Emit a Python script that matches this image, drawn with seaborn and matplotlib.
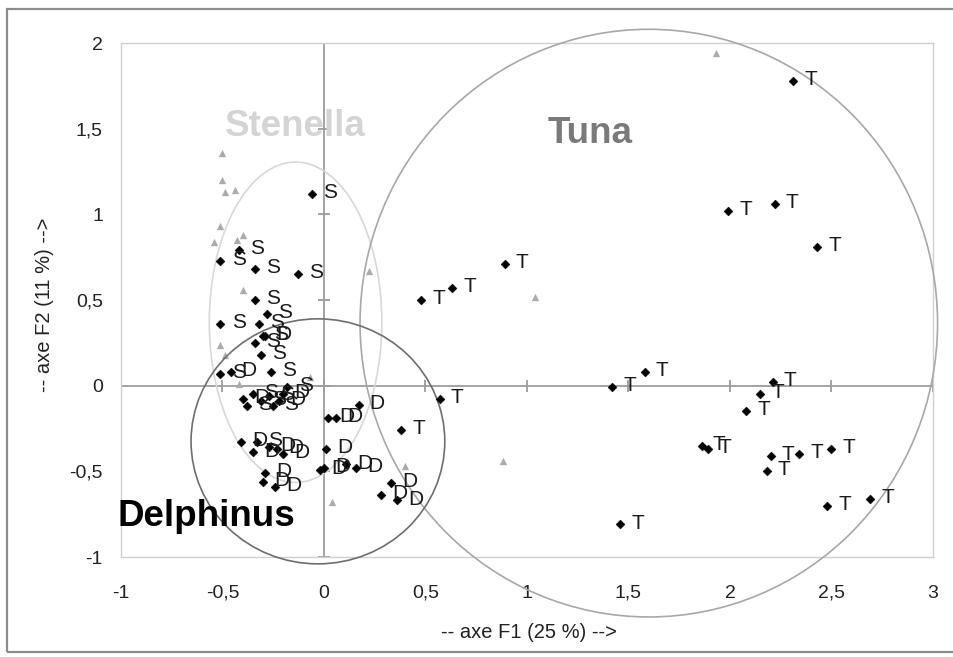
import numpy as np
import pandas as pd
import matplotlib
matplotlib.use("Agg")
import matplotlib.pyplot as plt
import seaborn as sns
from matplotlib.patches import Ellipse, Rectangle

# ---------------- data ----------------
tuna_x = [2.31, 1.99, 2.22, 2.43, 0.89, 0.63, 0.48, 0.57, 0.38, 1.42, 1.58, 2.21,
          2.15, 2.08, 1.86, 1.89, 2.20, 2.18, 2.34, 2.50, 2.48, 2.69, 1.46]
tuna_y = [1.78, 1.02, 1.06, 0.81, 0.71, 0.57, 0.50, -0.08, -0.26, -0.01, 0.08, 0.02,
          -0.05, -0.15, -0.35, -0.37, -0.41, -0.50, -0.40, -0.37, -0.70, -0.66, -0.81]

sten_x = [-0.06, -0.42, -0.51, -0.34, -0.13, -0.34, -0.28, -0.51, -0.32, -0.30, -0.34,
          -0.31, -0.26, -0.51, -0.18, -0.35, -0.31, -0.27, -0.38, -0.25, -0.33]
sten_y = [1.12, 0.79, 0.73, 0.68, 0.65, 0.50, 0.42, 0.36, 0.36, 0.29, 0.25,
          0.18, 0.08, 0.07, -0.01, -0.05, -0.09, -0.06, -0.12, -0.12, -0.33]

delph_x = [-0.46, -0.29, -0.40, -0.22, -0.20, 0.02, 0.06, 0.17, -0.41, -0.35, -0.27, -0.23,
           -0.20, 0.01, -0.02, 0.00, 0.11, 0.16, 0.33, 0.28, 0.36, -0.29, -0.30, -0.24]
delph_y = [0.08, 0.29, -0.08, -0.09, -0.05, -0.19, -0.19, -0.11, -0.33, -0.39, -0.36, -0.37,
           -0.40, -0.37, -0.49, -0.48, -0.46, -0.48, -0.57, -0.64, -0.67, -0.51, -0.56, -0.59]

supp_x = [-0.50, -0.50, -0.49, -0.44, -0.51, -0.54, -0.40, -0.43, 0.22, -0.40, -0.51,
          -0.49, 0.04, 0.40, 1.04, 0.88, 1.93, -0.07, -0.42]
supp_y = [1.36, 1.20, 1.13, 1.14, 0.93, 0.84, 0.88, 0.85, 0.67, 0.56, 0.24,
          0.18, -0.68, -0.47, 0.52, -0.44, 1.94, 0.05, 0.01]

group_names = ["Stenella", "Tuna", "Delphinus"]
group_cx = [-0.14, 1.60, -0.03]
group_cy = [0.37, 0.365, -0.325]
group_w = [0.85, 2.845, 1.25]
group_h = [1.87, 3.43, 1.43]
group_label_x = [-0.49, 1.10, -1.015]
group_label_y = [1.515, 1.474, -0.766]

ticks_x = [-1, -0.5, 0, 0.5, 1, 1.5, 2, 2.5, 3]
ticks_y = [-1, -0.5, 0, 0.5, 1, 1.5, 2]
xlabel = "-- axe F1 (25 %) -->"
ylabel = "-- axe F2 (11 %) -->"

# ---------------- style ----------------
sns.set_style("white")
plt.rcParams["font.family"] = ["Liberation Sans", "DejaVu Sans"]

df = pd.DataFrame({
    "x": sten_x + tuna_x + delph_x,
    "y": sten_y + tuna_y + delph_y,
    "lab": ["S"] * len(sten_x) + ["T"] * len(tuna_x) + ["D"] * len(delph_x),
})
sup = pd.DataFrame({"x": supp_x, "y": supp_y})

fig = plt.figure(figsize=(9.54, 6.57), dpi=100)
ax = fig.add_axes([121 / 954, 100 / 657, 812 / 954, 514 / 657])
ax.set_xlim(-1, 3)
ax.set_ylim(-1, 2)

# cross axes through the origin with tick marks
axis_col = "#9c9c9c"
ax.axhline(0, color=axis_col, lw=1.3, zorder=1)
ax.axvline(0, color=axis_col, lw=1.3, zorder=1)
ax.plot(ticks_x, np.zeros(len(ticks_x)), ls="none", marker="|", ms=8, mew=1.3,
        color=axis_col, zorder=1)
ax.plot(np.zeros(len(ticks_y)), ticks_y, ls="none", marker="_", ms=8, mew=1.3,
        color=axis_col, zorder=1)

# supplementary points (grey triangles)
sns.scatterplot(data=sup, x="x", y="y", marker="^", color="#ababab", s=28,
                linewidth=0, ax=ax, zorder=2, legend=False)
# active points
sns.scatterplot(data=df, x="x", y="y", marker="D", color="black", s=20,
                linewidth=0.4, edgecolor="black", ax=ax, zorder=4, legend=False)
for _, r in df.iterrows():
    ax.annotate(r["lab"], (r["x"], r["y"]), xytext=(8, 1), textcoords="offset points",
                ha="left", va="center", fontsize=15, color="#1a1a1a", zorder=5)

# group ellipses and labels
ell_cols = ["#d8d8d8", "#a8a8a8", "#6e6e6e"]
txt_cols = ["#d4d4d4", "#7a7a7a", "#000000"]
for i in range(3):
    e = Ellipse((group_cx[i], group_cy[i]), group_w[i], group_h[i], fill=False,
                edgecolor=ell_cols[i], lw=1.2, clip_on=False, zorder=3)
    ax.add_patch(e)
    ax.text(group_label_x[i], group_label_y[i], group_names[i], ha="left", va="center",
            fontsize=26.5, fontweight="bold", color=txt_cols[i], zorder=6, clip_on=False)

# plot frame, ticks labels
for s in ax.spines.values():
    s.set_color("#d0d0d0")
    s.set_linewidth(1.0)
ax.set_xticks(ticks_x)
ax.set_xticklabels([("%g" % t).replace(".", ",") for t in ticks_x])
ax.set_yticks(ticks_y)
ax.set_yticklabels([("%g" % t).replace(".", ",") for t in ticks_y])
ax.tick_params(axis="x", length=0, pad=20, labelsize=14, labelcolor="#222222")
ax.tick_params(axis="y", length=0, pad=13, labelsize=14, labelcolor="#222222")
ax.set_xlabel(xlabel, fontsize=14.5, color="#222222")
ax.set_ylabel(ylabel, fontsize=14.5, color="#222222")
ax.xaxis.set_label_coords(0.502, -0.146)
ax.yaxis.set_label_coords(-0.094, 0.49)
ax.xaxis.label.set_va("center")
ax.yaxis.label.set_va("center")

# outer chart border
fig.add_artist(Rectangle((7 / 954, 1 - 652 / 657), 950 / 954, 643 / 657,
                         transform=fig.transFigure, fill=False, ec="#8c8c8c", lw=1.6))

fig.savefig("out.png", dpi=100, facecolor="white")
